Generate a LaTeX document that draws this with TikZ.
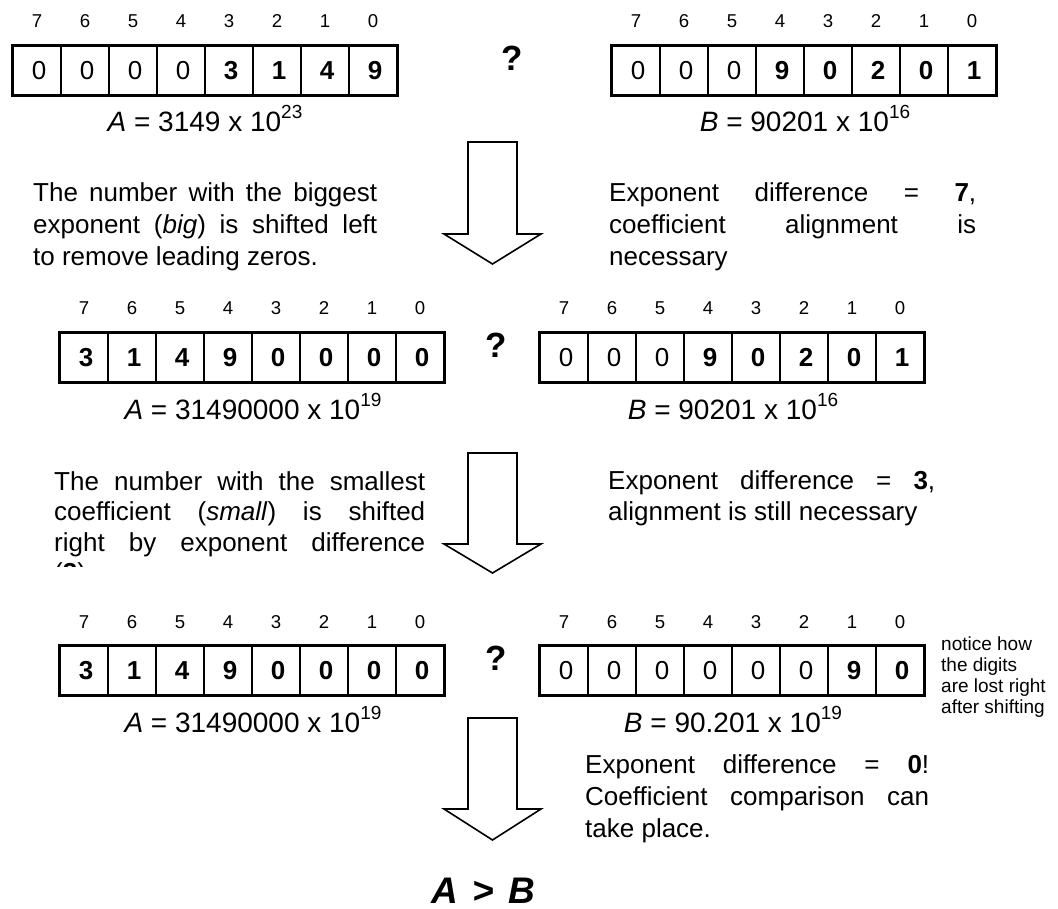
\documentclass[tikz,border=0pt]{standalone}
\usepackage{fontspec}
\setmainfont{Liberation Sans}
\newcommand\fs[2]{\fontsize{#1}{#2}\selectfont}
\newcommand\bd[1]{\textbf{#1}}
\newcommand\sups[1]{\raisebox{13pt}{\fs{19}{20}#1}}
\newcommand\jl[2]{\makebox[#1pt][s]{#2}}
\tikzset{
  cell/.style={draw, line width=1.6pt, minimum width=48pt, minimum height=49pt, inner sep=0pt, font=\fs{26}{30}},
  idx/.style={inner sep=0pt, font=\fs{18.6}{20}, anchor=base},
  lbl/.style={inner sep=0pt, font=\fs{28}{32}, anchor=base},
  txt/.style={inner sep=0pt, font=\fs{26}{31}, anchor=base west},
  note/.style={inner sep=0pt, font=\fs{19}{21}, anchor=base west},
  qm/.style={inner sep=0pt, font=\fs{35}{40}\bfseries},
  arr/.style={draw, line width=1.6pt, line join=miter, fill=white},
}
\newcommand\regdraw[4]{%
  \foreach \d [count=\i from 0] in {#4} {
    \pgfmathtruncatemacro\idx{7-\i}
    \node[cell] (#1c\i) at ({#2+24+48*\i}, {#3+24.5}) {\hspace{4pt}\d};
    \node[idx] (#1i\i) at ({#2+24+48*\i}, {#3-18}) {\idx};
  }
  \draw[line width=2.2pt] (#1c0.north west) rectangle (#1c7.south east);
}
\newcommand\barrow[4]{% cx, top, base, tip
  \draw[arr] ({#1-24.5},#2) -- ({#1+24.5},#2) -- ({#1+24.5},#3) -- ({#1+48.5},#3)
    -- (#1,#4) -- ({#1-48.5},#3) -- ({#1-24.5},#3) -- cycle;
}
\begin{document}
\begin{tikzpicture}[x=1pt, y=-1pt]
\useasboundingbox (0,0) rectangle (1058,909);

% ---------- row 1 ----------
\regdraw{ra}{13}{46}{0,0,0,0,\bd{3},\bd{1},\bd{4},\bd{9}}
\regdraw{rb}{612}{46}{0,0,0,\bd{9},\bd{0},\bd{2},\bd{0},\bd{1}}
\node[qm] (q1) at (512,58) {?};
\node[lbl] (la1) at (205,132) {\textit{A} = 3149 x 10\sups{23}};
\node[lbl] (lb1) at (805,132) {\textit{B} = 90201 x 10\sups{16}};

\barrow{492.5}{142}{234}{264}

\node[txt] (t1a) at (33,201.5) {\jl{344}{The number with the biggest}};
\node[txt] (t1b) at (33,233.5) {\jl{344}{exponent (\textit{big}) is shifted left}};
\node[txt] (t1c) at (33,265.5) {to remove leading zeros.};

\node[txt] (u1a) at (609,201.5) {\jl{367}{Exponent difference = \bd{7},}};
\node[txt] (u1b) at (609,233.5) {\jl{367}{coefficient alignment is}};
\node[txt] (u1c) at (609,265.5) {necessary};

% ---------- row 2 ----------
\regdraw{rc}{60}{333}{\bd{3},\bd{1},\bd{4},\bd{9},\bd{0},\bd{0},\bd{0},\bd{0}}
\regdraw{rd}{540}{333}{0,0,0,\bd{9},\bd{0},\bd{2},\bd{0},\bd{1}}
\node[qm] (q2) at (496,345.5) {?};
\node[lbl] (la2) at (253,419) {\textit{A} = 31490000 x 10\sups{19}};
\node[lbl] (lb2) at (733,419) {\textit{B} = 90201 x 10\sups{16}};

\barrow{492.5}{453}{544}{573}

\node[txt] (t2a) at (54,490) {\jl{371}{The number with the smallest}};
\node[txt] (t2b) at (54,520.5) {\jl{371}{coefficient (\textit{small}) is shifted}};
\node[txt] (t2c) at (54,551) {\jl{371}{right by exponent difference}};
\begin{scope}
  \clip (0,0) rectangle (440,566);
  \node[txt] (t2d) at (54,581.5) {(\bd{3})};
\end{scope}

\node[txt] (u2a) at (608,489) {\jl{327}{Exponent difference = \bd{3},}};
\node[txt] (u2b) at (608,520) {alignment is still necessary};

% ---------- row 3 ----------
\regdraw{re}{60}{646}{\bd{3},\bd{1},\bd{4},\bd{9},\bd{0},\bd{0},\bd{0},\bd{0}}
\regdraw{rf}{540}{646}{0,0,0,0,0,0,\bd{9},\bd{0}}
\node[qm] (q3) at (496,658.5) {?};
\node[lbl] (la3) at (253,732) {\textit{A} = 31490000 x 10\sups{19}};
\node[lbl] (lb3) at (733,732) {\textit{B} = 90.201 x 10\sups{19}};

\node[note] (n1) at (941,650) {notice how};
\node[note] (n2) at (941,671) {the digits};
\node[note] (n3) at (941,692) {are lost right};
\node[note] (n4) at (941,713) {after shifting};

\barrow{492.5}{718}{809}{840}

\node[txt] (u3a) at (585,773) {\jl{344}{Exponent difference = \bd{0}!}};
\node[txt] (u3b) at (585,805) {\jl{344}{Coefficient comparison can}};
\node[txt] (u3c) at (585,837) {take place.};

\node[inner sep=0pt, font=\fs{37}{40}\bfseries\itshape, anchor=base] (res) at (483.5,903) {A\hspace{14pt}>\hspace{14pt}B};
\end{tikzpicture}
\end{document}
